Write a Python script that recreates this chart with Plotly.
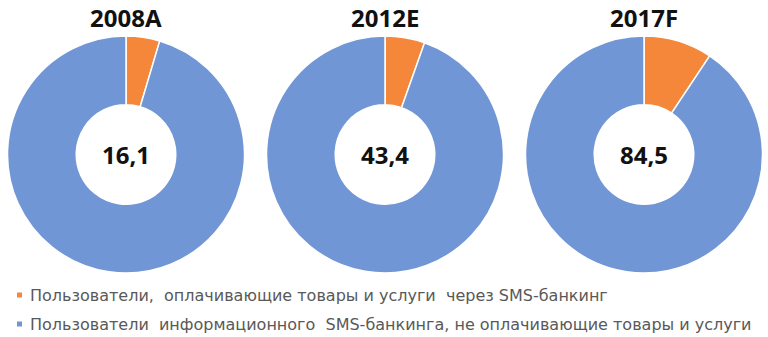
import plotly.graph_objects as go

# Total SMS-banking users (mln) per year and the share paying for goods/services
years = ["2008A", "2012E", "2017F"]
totals = [16.1, 43.4, 84.5]
paying = [0.74, 2.35, 7.9]
info_only = [t - p for t, p in zip(totals, paying)]

series_names = [
    "Пользователи,\u00a0 оплачивающие товары и услуги\u00a0 через SMS-банкинг",
    "Пользователи\u00a0 информационного\u00a0 SMS-банкинга, не оплачивающие товары и услуги",
]
colors = ["#F5873A", "#7196D6"]

W, H = 768, 337
centers_x = [126, 385, 644]
center_y = 154.5
radius = 118.5

fig = go.Figure()
annotations = []
for i, year in enumerate(years):
    cx = centers_x[i]
    fig.add_trace(go.Pie(
        values=[paying[i], info_only[i]],
        labels=series_names,
        hole=0.42,
        sort=False,
        direction="clockwise",
        rotation=0,
        textinfo="none",
        hoverinfo="label+value",
        marker=dict(colors=colors, line=dict(color="white", width=1.5)),
        domain=dict(x=[(cx - radius) / W, (cx + radius) / W],
                    y=[1 - (center_y + radius) / H, 1 - (center_y - radius) / H]),
        showlegend=False,
    ))
    annotations.append(dict(
        x=cx / W, y=1 - center_y / H, xref="paper", yref="paper",
        text=f"<b>{str(totals[i]).replace('.', ',')}</b>", showarrow=False,
        font=dict(family="Noto Sans", size=24, color="#111111"),
        xanchor="center", yanchor="middle",
    ))
    annotations.append(dict(
        x=cx / W, y=1 - 18 / H, xref="paper", yref="paper",
        text=f"<b>{year}</b>", showarrow=False,
        font=dict(family="Noto Sans", size=24, color="#111111"),
        xanchor="center", yanchor="middle",
    ))

# Hand-drawn legend: small colour squares with the series names
shapes = []
legend_rows_y = [295, 324]
for name, col, ly in zip(series_names, colors, legend_rows_y):
    shapes.append(dict(type="rect", xref="paper", yref="paper",
                       x0=17 / W, x1=22 / W, y0=1 - (ly + 2.5) / H, y1=1 - (ly - 2.5) / H,
                       fillcolor=col, line=dict(width=0)))
    annotations.append(dict(
        x=28 / W, y=1 - ly / H, xref="paper", yref="paper",
        text=name, showarrow=False, xanchor="left", yanchor="middle",
        font=dict(family="DejaVu Sans", size=16, color="#595959"),
    ))

fig.update_layout(
    width=W, height=H,
    margin=dict(l=0, r=0, t=0, b=0),
    paper_bgcolor="white", plot_bgcolor="white",
    annotations=annotations, shapes=shapes,
)

fig.write_html("out.html")
